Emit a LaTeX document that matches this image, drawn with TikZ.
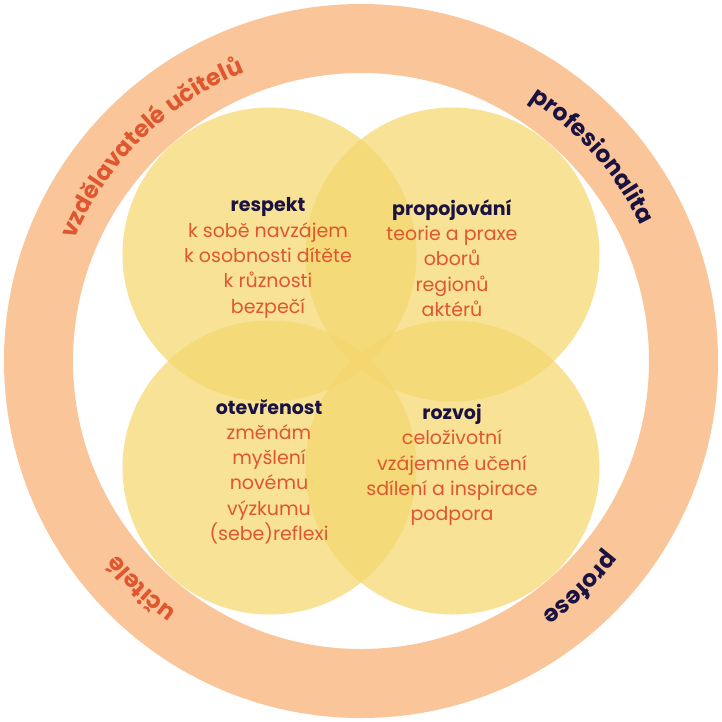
\documentclass[tikz,border=0pt]{standalone}
\usepackage{fontspec}
\setmainfont{Poppins}
\usetikzlibrary{decorations.text}
\definecolor{ringc}{RGB}{251,197,154}
\definecolor{yel}{RGB}{245,215,110}
\definecolor{navy}{RGB}{26,18,64}
\definecolor{rust}{RGB}{224,86,46}
\tikzset{
  bubble/.style={fill=yel, fill opacity=0.72},
  block/.style={align=center, text=rust, font=\fontsize{19}{25.3}\selectfont, inner sep=0pt},
  ringtext/.style 2 args={decorate, decoration={text along path, text align=center,
     text color=#1, text={|\fontsize{23.5}{23.5}\selectfont\bfseries|#2}}}
}
\newcommand{\hd}[1]{\textcolor{navy}{\bfseries #1}}
\begin{document}
\begin{tikzpicture}[x=1pt,y=1pt]
\useasboundingbox (-361,-360) rectangle (361,361);
\fill[white] (-361,-360) rectangle (361,361);
\coordinate (O) at (0,0);
\draw[ringc, line width=69pt] (O) circle[radius=322.5pt];
\fill[bubble] (-91.5,106.5) circle[radius=147pt];
\fill[bubble] (91.5,106.5) circle[radius=147pt];
\fill[bubble] (-91.5,-106.5) circle[radius=147pt];
\fill[bubble] (91.5,-106.5) circle[radius=147pt];
\node[block] (respekt) at (-93,103) {\hd{respekt}\\k sobě navzájem\\k osobnosti dítěte\\k různosti\\bezpečí};
\node[block] (propojovani) at (91,103) {\hd{propojování}\\teorie a praxe\\oborů\\regionů\\aktérů};
\node[block] (otevrenost) at (-92,-110.5) {\hd{otevřenost}\\změnám\\myšlení\\novému\\výzkumu\\(sebe)reflexi};
\node[block] (rozvoj) at (91,-104) {\hd{rozvoj}\\celoživotní\\vzájemné učení\\sdílení a inspirace\\podpora};
\path[ringtext={rust}{vzdělavatelé učitelů}] (O) ++(185:311pt) arc[start angle=185, end angle=84, radius=311pt];
\path[ringtext={navy}{profesionalita}] (O) ++(92:311pt) arc[start angle=92, end angle=-9, radius=311pt];
\path[ringtext={rust}{učitelé}] (O) ++(276:311pt) arc[start angle=276, end angle=176, radius=311pt];
\path[ringtext={navy}{profese}] (O) ++(364:311pt) arc[start angle=364, end angle=264, radius=311pt];
\end{tikzpicture}
\end{document}
